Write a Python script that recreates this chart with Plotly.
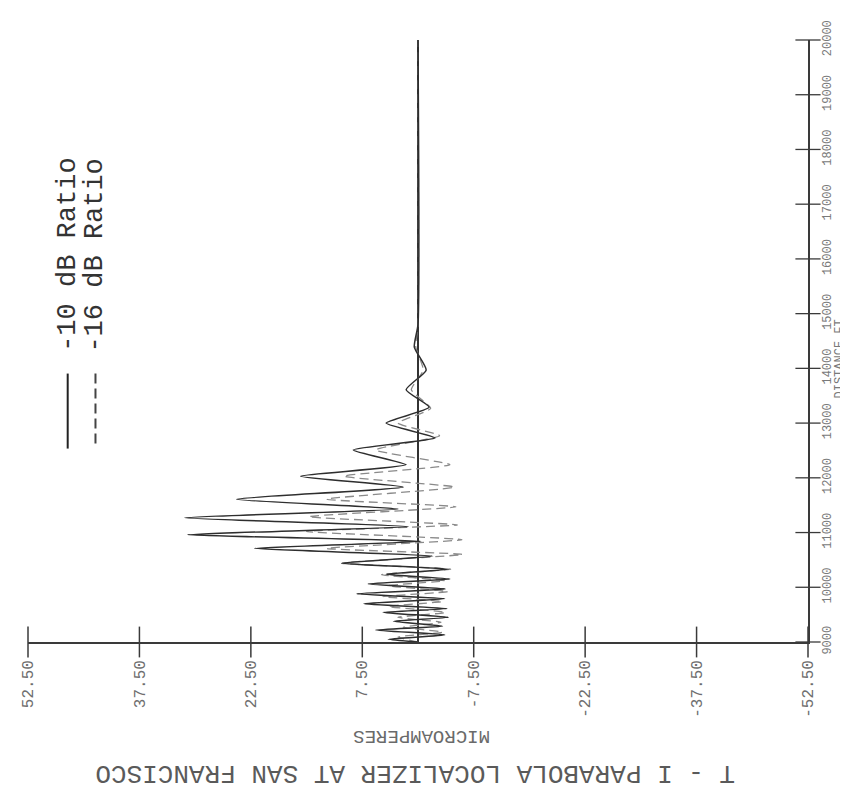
import plotly.graph_objects as go

# ---------------- data ----------------
distance_ft_10db = [9000, 9050, 9130, 9220, 9290, 9380, 9450, 9540, 9610, 9700,
                    9790, 9880, 9970, 10060, 10150, 10240, 10330, 10440, 10570, 10710,
                    10840, 10960, 11110, 11270, 11430, 11610, 11830, 12030, 12240, 12510,
                    12730, 13000, 13290, 13610, 13970, 14390, 14800, 20000]
microamps_10db = [0, 4.0, -3.6, 5.7, -3.3, 3.3, -4.1, 4.7, -3.9, 7.3,
                  -3.6, 8.3, -3.7, 6.7, -4.3, 4.3, -4.1, 10.3, -2.0, 22.0,
                  -0.4, 31.0, 1.3, 31.4, 2.7, 24.4, 2.0, 15.8, 1.6, 8.7,
                  -2.3, 4.3, -1.5, 1.6, -1.1, 0.5, 0, 0]

distance_ft_16db = [9000, 9090, 9180, 9270, 9360, 9450, 9540, 9650, 9740, 9830,
                    9920, 10030, 10120, 10230, 10330, 10440, 10600, 10710, 10870, 11020,
                    11140, 11290, 11470, 11610, 11830, 12030, 12240, 12510, 12770, 13000,
                    13270, 13610, 13970, 14390, 14800, 20000]
microamps_16db = [0, 2.7, -3.3, 2.0, -3.1, 2.7, -3.7, 4.0, -3.3, 4.7,
                  -4.0, 4.0, -3.6, 4.9, -4.4, 10.3, -6.0, 12.3, -5.9, 15.0,
                  -5.3, 14.7, -5.1, 12.3, -4.9, 10.0, -4.3, 5.7, -2.9, 2.7,
                  -1.7, 0.9, -0.7, 0.3, 0, 0]

microamp_ticks = [52.5, 37.5, 22.5, 7.5, -7.5, -22.5, -37.5, -52.5]
microamp_labels = ["52.50", "37.50", "22.50", "7.50", "-7.50", "-22.50", "-37.50", "-52.50"]
distance_ticks = [9000, 10000, 11000, 12000, 13000, 14000, 15000, 16000, 17000, 18000, 19000, 20000]
distance_labels = [str(v) for v in distance_ticks]

series_names = ["-10 dB Ratio", "-16 dB Ratio"]
title_text = "T - I PARABOLA LOCALIZER AT SAN FRANCISCO"
x_title = "MICROAMPERES"
y_title = "DISTANCE FT"

# ---------------- figure ----------------
OFF = 8                      # page body margin
W, H = 848 - OFF, 798 - OFF
PL, PR, PT, PB = 22, 808, 32, 642   # plot area in page pixels
L, T = PL - OFF, PT - OFF
R, B = W - (PR - OFF), H - (PB - OFF)
pw, ph = PR - PL, PB - PT

def px(xp):
    return (xp - PL) / pw

def py(yp):
    return (PB - yp) / ph

AX = "#3a3a3a"
MONO = "Liberation Mono, DejaVu Sans Mono, monospace"

fig = go.Figure()

fig.add_trace(go.Scatter(
    x=microamps_16db, y=distance_ft_16db, mode="lines",
    line=dict(color="#8a8a8a", width=1.3, dash="9px,5px", shape="spline", smoothing=0.5),
    name=series_names[1], showlegend=False, hoverinfo="skip"))

fig.add_trace(go.Scatter(
    x=microamps_10db, y=distance_ft_10db, mode="lines",
    line=dict(color="#2e2e2e", width=1.5, shape="spline", smoothing=0.5),
    name=series_names[0], showlegend=False, hoverinfo="skip"))

# crossing tick marks on both axes
fig.add_trace(go.Scatter(
    x=microamp_ticks, y=[distance_ticks[0]] * len(microamp_ticks), mode="markers",
    marker=dict(symbol="line-ns", size=22, line=dict(width=1.5, color=AX)),
    cliponaxis=False, showlegend=False, hoverinfo="skip"))
fig.add_trace(go.Scatter(
    x=[microamp_ticks[-1]] * len(distance_ticks), y=distance_ticks, mode="markers",
    marker=dict(symbol="line-ew", size=18, line=dict(width=1.3, color=AX)),
    cliponaxis=False, showlegend=False, hoverinfo="skip"))

fig.update_layout(
    width=W, height=H,
    margin=dict(l=L, r=R, t=T, b=B, pad=0),
    paper_bgcolor="white", plot_bgcolor="white",
    showlegend=False,
    xaxis=dict(
        range=[52.5, -52.5], tickvals=microamp_ticks, ticktext=microamp_labels,
        tickangle=-90, ticks="", showgrid=False,
        showline=True, linecolor=AX, linewidth=1.5,
        zeroline=True, zerolinecolor="#333333", zerolinewidth=1.5,
        tickfont=dict(family=MONO, size=16, color="#6e6e6e"),
        ticklabelstandoff=10,
    ),
    yaxis=dict(
        range=[9000, 20000], side="right", tickvals=distance_ticks, ticktext=distance_labels,
        tickangle=-90, ticks="", showgrid=False, zeroline=False,
        showline=True, linecolor=AX, linewidth=1.5,
        tickfont=dict(family=MONO, size=12, color="#7a7a7a"),
        ticklabelstandoff=7,
    ),
)

annotations = [
    dict(text=x_title, x=px(418), y=py(738), textangle=180,
         font=dict(family=MONO, size=19, color="#6a6a6a")),
    dict(text=title_text, x=px(412), y=py(774), textangle=180,
         font=dict(family=MONO, size=26, color="#5a5a5a")),
    dict(text=y_title, x=px(840), y=py(355), textangle=-90,
         font=dict(family=MONO, size=12, color="#7a7a7a")),
    dict(text=series_names[0], x=px(62), y=py(250), textangle=-90,
         font=dict(family=MONO, size=27, color="#333333")),
    dict(text=series_names[1], x=px(90), y=py(250), textangle=-90,
         font=dict(family=MONO, size=27, color="#333333")),
]
for a in annotations:
    a.update(xref="paper", yref="paper", showarrow=False, xanchor="center", yanchor="middle")
fig.update_layout(annotations=annotations)

fig.add_shape(type="line", xref="paper", yref="paper",
              x0=px(62), x1=px(62), y0=py(370), y1=py(446),
              line=dict(color="#222222", width=2))
fig.add_shape(type="line", xref="paper", yref="paper",
              x0=px(90), x1=px(90), y0=py(370), y1=py(446),
              line=dict(color="#444444", width=2, dash="10px,5px"))

fig.write_html("out.html")
